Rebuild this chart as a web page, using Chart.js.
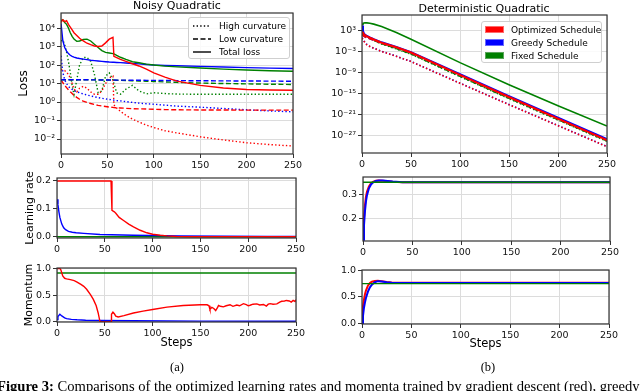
<!DOCTYPE html>
<html lang="en">
<head>
<meta charset="UTF-8" />
<title>Noisy / Deterministic Quadratic</title>
<style>
  body { margin: 0; width: 640px; height: 391px; overflow: hidden; position: relative; background: #fff;
         font-family: "DejaVu Sans", sans-serif; color: #000; }
  canvas { position: absolute; }
  .c { position: absolute; white-space: nowrap; transform: translate(-50%, -50%); }
  .legend { position: absolute; background: rgba(255,255,255,0.85); border: 1px solid #cfcfcf; border-radius: 3px; box-sizing: border-box; }
  .legend .row { position: absolute; font-size: 9px; line-height: 10px; white-space: nowrap; }
  .legend svg { position: absolute; }
  .patch { position: absolute; width: 19px; height: 7px; box-sizing: border-box; }
  .serif { font-family: "Liberation Serif", "DejaVu Serif", serif; }
</style>
</head>
<body>
<canvas id="nqLoss"></canvas>
<canvas id="dqLoss"></canvas>
<canvas id="nqLr"></canvas>
<canvas id="dqLr"></canvas>
<canvas id="nqMom"></canvas>
<canvas id="dqMom"></canvas>

<div class="c" style="left:177px; top:5px; font-size:11px;">Noisy Quadratic</div>
<div class="c" style="left:484px; top:8px; font-size:11px;">Deterministic Quadratic</div>

<div class="legend" style="left:188px; top:17px; width:102px; height:42px;">
  <svg width="20" height="40" style="left:4px; top:0;">
    <line x1="0" y1="8" x2="18" y2="8" stroke="#000" stroke-width="1.4" stroke-dasharray="1.4 2.2" />
    <line x1="0" y1="21" x2="18" y2="21" stroke="#000" stroke-width="1.4" stroke-dasharray="5 2.5" />
    <line x1="0" y1="34" x2="18" y2="34" stroke="#000" stroke-width="1.4" />
  </svg>
  <div class="row" style="left:30px; top:3px;">High curvature</div>
  <div class="row" style="left:30px; top:16px;">Low curvature</div>
  <div class="row" style="left:30px; top:29px;">Total loss</div>
</div>

<div class="legend" style="left:481px; top:21px; width:121px; height:42px;">
  <div class="patch" style="left:3px; top:4px; background:#ff0000; border:1px solid #ff6a6a;"></div>
  <div class="patch" style="left:3px; top:17px; background:#0000ff; border:1px solid #6a6aff;"></div>
  <div class="patch" style="left:3px; top:30px; background:#008000; border:1px solid #5aa55a;"></div>
  <div class="row" style="left:29px; top:3px;">Optimized Schedule</div>
  <div class="row" style="left:29px; top:16px;">Greedy Schedule</div>
  <div class="row" style="left:29px; top:29px;">Fixed Schedule</div>
</div>

<div class="c serif" style="left:177px; top:367px; font-size:12.5px;">(a)</div>
<div class="c serif" style="left:488px; top:367px; font-size:12.5px;">(b)</div>
<div class="serif" style="position:absolute; left:-3px; top:379px; font-size:14.6px; line-height:15px; white-space:nowrap;"><b>Figure 3:</b> Comparisons of the optimized learning rates and momenta trained by gradient descent (red), greedy</div>

<script src="https://cdn.jsdelivr.net/npm/chart.js"></script>
<script>
  // ---- shared axis ticks ----
  const stepTicks = [0, 50, 100, 150, 200, 250];
  const nqLossTicks = [1e-2, 1e-1, 1, 10, 100, 1e3, 1e4];
  const nqLossLabels = ['10⁻²', '10⁻¹', '10⁰', '10¹', '10²', '10³', '10⁴'];
  const dqLossTicks = [1e-27, 1e-21, 1e-15, 1e-9, 1e-3, 1e3];
  const dqLossLabels = ['10⁻²⁷', '10⁻²¹', '10⁻¹⁵', '10⁻⁹', '10⁻³', '10³'];
  const nqLrTicks = [0, 0.1, 0.2];
  const nqLrLabels = ['0.0', '0.1', '0.2'];
  const dqLrTicks = [0.2, 0.3];
  const dqLrLabels = ['0.2', '0.3'];
  const momTicks = [0, 0.5, 1.0];
  const momLabels = ['0.0', '0.5', '1.0'];

  // ---- noisy quadratic: loss ----
  const nqSteps = [0, 2, 4, 6, 8, 10, 12, 14, 17, 20, 24, 28, 32, 36, 40, 44, 48, 52, 56, 57, 60, 64, 70, 77, 84, 92, 100, 112, 125, 150, 175, 200, 225, 250];
  const nqRedTotal = [2.0e4, 2.8e4, 2.24e4, 2.51e4, 1.58e4, 1.12e4, 7.9e3, 5.6e3, 4.0e3, 2.8e3, 2.0e3, 1.51e3, 1.26e3, 1.07e3, 1.0e3, 1.07e3, 1.58e3, 2.51e3, 3.16e3, 295, 251, 200, 158, 117, 89, 60, 38, 22.4, 13.5, 7.9, 5.75, 4.8, 4.5, 4.3];
  const nqBlueTotal = [1.78e4, 2.0e3, 891, 562, 417, 339, 295, 269, 240, 224, 209, 195, 182, 174, 166, 158, 151, 145, 141, 141, 138, 135, 129, 120, 115, 107, 100, 95, 91, 85, 78, 72, 68, 65];
  const nqGreenTotal = [2.51e4, 2.8e4, 2.0e4, 1.58e4, 1.0e4, 5.6e3, 3.55e3, 2.51e3, 1.91e3, 2.0e3, 2.4e3, 2.51e3, 2.0e3, 1.32e3, 891, 603, 479, 447, 417, 398, 331, 263, 200, 151, 132, 112, 100, 87, 79, 69, 60, 54, 49, 46];
  const nqRedHigh = [56, 54, 50, 40, 31.6, 20, 10, 5.0, 3.55, 5.6, 7.1, 5.6, 3.55, 2.63, 2.63, 3.98, 10, 20, 25.1, 0.71, 0.47, 0.316, 0.19, 0.12, 0.083, 0.056, 0.042, 0.028, 0.0214, 0.0132, 0.0089, 0.0063, 0.005, 0.0042];
  const nqBlueHigh = [316, 40, 15.8, 10, 7.1, 5.6, 4.8, 4.17, 3.55, 3.16, 2.75, 2.4, 2.14, 1.91, 1.74, 1.58, 1.48, 1.38, 1.29, 1.26, 1.2, 1.15, 1.05, 0.955, 0.871, 0.813, 0.759, 0.676, 0.603, 0.525, 0.447, 0.38, 0.331, 0.295];
  const nqGreenHigh = [2.0e3, 2.24e3, 1.26e3, 501, 158, 40, 7.9, 2.51, 15.8, 100, 251, 263, 158, 31.6, 3.16, 3.98, 25.1, 38, 15.8, 10, 3.16, 2.63, 5.0, 7.9, 3.98, 2.75, 3.16, 2.88, 2.69, 2.63, 2.63, 2.63, 2.63, 2.63];
  const nqRedLow = [15.8, 11.2, 7.9, 6.0, 4.6, 3.6, 2.9, 2.3, 1.78, 1.41, 1.12, 0.955, 0.832, 0.741, 0.661, 0.617, 0.575, 0.537, 0.513, 0.501, 0.49, 0.479, 0.457, 0.437, 0.427, 0.417, 0.407, 0.389, 0.38, 0.372, 0.372, 0.363, 0.363, 0.363];
  const nqBlueLow = [16, 16, 16, 16, 16, 16, 16, 16, 16, 16, 16, 16, 15.8, 15.8, 15.7, 15.6, 15.5, 15.5, 15.4, 15.4, 15.3, 15.3, 15.2, 15.1, 15, 14.9, 14.8, 14.6, 14.4, 14.1, 13.9, 13.7, 13.5, 13.3];
  const nqGreenLow = [16, 16, 16, 16, 16, 16, 16, 16, 16, 16, 16, 15.9, 15.8, 15.7, 15.6, 15.5, 15.4, 15.3, 15.2, 15.2, 15.0, 14.8, 14.5, 14.1, 13.7, 13.3, 12.9, 12.2, 11.5, 10.6, 10.0, 9.6, 9.2, 8.9];

  // ---- deterministic quadratic: loss ----
  const dqSteps = [0, 1, 2, 3, 5, 8, 12, 20, 35, 50, 100, 150, 200, 250];
  const dqRedTotal = [316, 126, 63, 35.5, 15.8, 6.3, 2.0, 0.25, 1.26e-2, 4.0e-4, 1.6e-10, 7.9e-17, 5.0e-23, 4.0e-29];
  const dqBlueTotal = [2.0e4, 631, 100, 50, 20, 7.9, 2.5, 0.316, 1.58e-2, 5.0e-4, 2.5e-10, 1.26e-16, 1.0e-22, 7.9e-29];
  const dqGreenTotal = [4.0e4, 7.9e4, 1.0e5, 1.12e5, 1.12e5, 8.9e4, 5.0e4, 1.0e4, 200, 2.5, 5.0e-7, 2.5e-13, 2.5e-19, 4.0e-25];
  const dqRedLow = [40, 25, 15.8, 11.2, 6.3, 3.16, 1.26, 0.178, 1.0e-2, 3.16e-4, 1.26e-10, 6.3e-17, 4.0e-23, 3.16e-29];
  const dqBlueLow = [40, 25, 15.8, 11.2, 6.3, 3.16, 1.26, 0.2, 1.1e-2, 3.5e-4, 1.4e-10, 7.0e-17, 4.5e-23, 3.5e-29];
  const dqGreenLow = [126, 79, 50, 31.6, 15.8, 5.0, 1.26, 0.126, 5.0e-3, 1.58e-4, 6.3e-11, 3.16e-17, 2.5e-23, 2.0e-29];
  const dqRedHigh = [5.0, 2.0, 0.63, 0.316, 6.3e-2, 2.0e-2, 6.3e-3, 7.9e-4, 3.16e-5, 1.0e-6, 6.3e-13, 5.0e-19, 5.0e-25, 5.0e-31];
  const dqBlueHigh = [6.3, 2.5, 0.79, 0.35, 7.0e-2, 2.2e-2, 7.0e-3, 8.9e-4, 3.5e-5, 1.1e-6, 7.0e-13, 5.6e-19, 5.6e-25, 5.6e-31];
  const dqGreenHigh = [100, 63, 40, 25, 12.6, 4.0, 1.0, 0.1, 4.0e-3, 1.26e-4, 5.0e-11, 2.5e-17, 2.0e-23, 1.6e-29];

  // ---- learning rates ----
  const nqLrRedSteps = [0, 56.5, 57.5, 60, 61.5, 65, 70, 75, 80, 87, 94, 100, 108, 115, 125, 140, 250];
  const nqLrRed = [0.2, 0.2, 0.095, 0.09, 0.085, 0.07, 0.058, 0.046, 0.036, 0.024, 0.015, 0.01, 0.006, 0.004, 0.002, 0.001, 0.001];
  const nqLrBlueSteps = [0, 1, 2, 3, 5, 7, 9, 12, 16, 20, 28, 45, 80, 130, 220, 250];
  const nqLrBlue = [0.135, 0.115, 0.09, 0.07, 0.046, 0.033, 0.026, 0.02, 0.017, 0.015, 0.013, 0.009, 0.006, 0.004, 0.002, 0.002];
  const nqLrGreenSteps = [0, 250];
  const nqLrGreen = [0.001, 0.001];

  const dqEarlySteps = [0, 1, 2, 3, 4, 6, 8, 10, 13, 16, 20, 25, 30, 40, 250];
  const dqLrRed = [0.115, 0.2, 0.255, 0.29, 0.31, 0.333, 0.345, 0.352, 0.356, 0.357, 0.356, 0.354, 0.352, 0.35, 0.35];
  const dqLrBlue = [0.11, 0.17, 0.23, 0.27, 0.295, 0.325, 0.34, 0.349, 0.355, 0.357, 0.357, 0.355, 0.353, 0.35, 0.35];
  const dqLrGreenSteps = [0, 250];
  const dqLrGreen = [0.35, 0.35];

  // ---- momentum ----
  const nqMomRedSteps = [0, 2, 3, 4, 6, 8, 10, 14, 18, 21, 25, 28, 31, 35, 38, 41, 43, 45, 50, 56.5, 57, 58.5, 60, 61.5, 64, 70, 80, 90, 100, 115, 132, 150, 157, 159, 160, 162, 164, 166, 168, 169, 171, 174, 177, 181, 184, 188, 191, 195, 198, 200, 202, 205, 209, 212, 216, 219, 221, 223, 226, 230, 233, 235, 238, 240, 243, 245, 247, 249, 250];
  const nqMomRed = [1.0, 1.0, 1.0, 0.975, 0.86, 0.815, 0.805, 0.79, 0.77, 0.745, 0.7, 0.665, 0.61, 0.51, 0.42, 0.3, 0.17, 0.0, 0.0, 0.0, 0.14, 0.18, 0.15, 0.105, 0.09, 0.115, 0.165, 0.2, 0.23, 0.275, 0.305, 0.32, 0.318, 0.3, 0.23, 0.27, 0.25, 0.21, 0.27, 0.305, 0.29, 0.28, 0.3, 0.32, 0.29, 0.315, 0.3, 0.34, 0.32, 0.3, 0.31, 0.33, 0.335, 0.315, 0.325, 0.295, 0.33, 0.34, 0.33, 0.335, 0.37, 0.385, 0.39, 0.4, 0.39, 0.37, 0.4, 0.38, 0.415];
  const nqMomBlueSteps = [0, 1, 3, 5, 8, 10, 15, 21, 30, 45, 80, 150, 250];
  const nqMomBlue = [0.04, 0.1, 0.14, 0.11, 0.075, 0.06, 0.045, 0.037, 0.03, 0.025, 0.019, 0.012, 0.01];
  const nqMomGreenSteps = [0, 250];
  const nqMomGreen = [0.915, 0.915];

  const dqMomRed = [0.13, 0.33, 0.45, 0.55, 0.62, 0.71, 0.76, 0.785, 0.8, 0.803, 0.795, 0.78, 0.77, 0.765, 0.765];
  const dqMomBlue = [0.0, 0.15, 0.3, 0.4, 0.48, 0.6, 0.68, 0.73, 0.775, 0.795, 0.79, 0.775, 0.765, 0.76, 0.76];
  const dqMomGreenSteps = [0, 250];
  const dqMomGreen = [0.75, 0.75];

  const RED = '#ff0000', BLUE = '#0000ff', GREEN = '#008000';
  const gridColor = '#dcdcdc';
  const tickFont = { family: 'DejaVu Sans', size: 9.5 };

  function line(steps, vals, color, style, width) {
    return {
      data: steps.map((s, i) => ({ x: s, y: vals[i] })),
      borderColor: color,
      borderWidth: width || 1.4,
      borderDash: style === 'dot' ? [1.4, 2.2] : style === 'dash' ? [5, 2.5] : [],
      pointRadius: 0,
      tension: 0,
      fill: false
    };
  }

  // box around the plotting area, like matplotlib spines
  const frame = {
    id: 'frame',
    afterDatasetsDraw(chart) {
      const a = chart.chartArea, c = chart.ctx;
      c.save();
      c.strokeStyle = '#333';
      c.lineWidth = 1.2;
      c.strokeRect(a.left, a.top, a.right - a.left, a.bottom - a.top);
      c.restore();
    }
  };

  function makeChart(id, box, datasets, y) {
    const cv = document.getElementById(id);
    cv.width = box.w; cv.height = box.h;
    cv.style.left = box.x + 'px'; cv.style.top = box.y + 'px';
    const yScale = {
      type: y.type, min: y.min, max: y.max,
      afterBuildTicks: s => { s.ticks = y.ticks.map(v => ({ value: v })); },
      afterFit: s => { s.width = box.yw; },
      grid: { color: gridColor, tickColor: '#333', tickLength: 4 },
      border: { display: false },
      ticks: { color: '#111', font: tickFont, padding: 2, autoSkip: false,
               callback: v => y.labels[y.ticks.indexOf(v)] },
      title: y.title ? { display: true, text: y.title, color: '#000',
               font: { family: 'DejaVu Sans', size: y.titleSize }, padding: { top: y.titlePad, bottom: 0 } }
             : { display: false }
    };
    new Chart(cv, {
      type: 'line',
      data: { datasets },
      options: {
        responsive: false,
        animation: false,
        layout: { padding: { top: box.pt, right: box.pr, left: 0, bottom: 0 } },
        plugins: { legend: { display: false }, tooltip: { enabled: false } },
        scales: {
          x: {
            type: 'linear', min: 0, max: 250,
            afterBuildTicks: s => { s.ticks = stepTicks.map(v => ({ value: v })); },
            afterFit: s => { s.height = box.xh; },
            grid: { color: gridColor, tickColor: '#333', tickLength: 4 },
            border: { display: false },
            ticks: { color: '#111', font: tickFont, padding: 2, maxRotation: 0, autoSkip: false },
            title: box.steps ? { display: true, text: 'Steps', color: '#000',
                     font: { family: 'DejaVu Sans', size: 11.5 }, padding: { top: 0, bottom: box.steps } }
                   : { display: false }
          },
          y: yScale
        }
      },
      plugins: [frame]
    });
  }

  makeChart('nqLoss', { x: 0, y: 0, w: 305, h: 172, yw: 61, pt: 13, pr: 12, xh: 18 }, [
    line(nqSteps, nqRedTotal, RED, 'solid'),
    line(nqSteps, nqGreenTotal, GREEN, 'solid'),
    line(nqSteps, nqBlueTotal, BLUE, 'solid'),
    line(nqSteps, nqBlueLow, BLUE, 'dash'),
    line(nqSteps, nqGreenLow, GREEN, 'dash'),
    line(nqSteps, nqRedLow, RED, 'dash'),
    line(nqSteps, nqRedHigh, RED, 'dot'),
    line(nqSteps, nqBlueHigh, BLUE, 'dot'),
    line(nqSteps, nqGreenHigh, GREEN, 'dot')
  ], { type: 'logarithmic', min: 1.55e-3, max: 6.5e4, ticks: nqLossTicks, labels: nqLossLabels,
       title: 'Loss', titleSize: 12, titlePad: 17 });

  makeChart('dqLoss', { x: 320, y: 0, w: 299, h: 171, yw: 42, pt: 15, pr: 12, xh: 18 }, [
    line(dqSteps, dqRedTotal, RED, 'solid', 2),
    line(dqSteps, dqBlueTotal, BLUE, 'solid', 2),
    line(dqSteps, dqGreenTotal, GREEN, 'solid', 1.6),
    line(dqSteps, dqRedLow, RED, 'dash'),
    line(dqSteps, dqBlueLow, BLUE, 'dash'),
    line(dqSteps, dqGreenLow, GREEN, 'dash'),
    line(dqSteps, dqRedHigh, RED, 'dot', 1.6),
    line(dqSteps, dqBlueHigh, BLUE, 'dot', 1.6),
    line(dqSteps, dqGreenHigh, GREEN, 'dot')
  ], { type: 'logarithmic', min: 8e-33, max: 2e7, ticks: dqLossTicks, labels: dqLossLabels });

  makeChart('nqLr', { x: 0, y: 168, w: 308, h: 88, yw: 57, pt: 10, pr: 12, xh: 18 }, [
    line(nqLrRedSteps, nqLrRed, RED, 'solid'),
    line(nqLrBlueSteps, nqLrBlue, BLUE, 'solid'),
    line(nqLrGreenSteps, nqLrGreen, GREEN, 'solid')
  ], { type: 'linear', min: -0.0036, max: 0.2107, ticks: nqLrTicks, labels: nqLrLabels,
       title: 'Learning rate', titleSize: 11, titlePad: 24 });

  makeChart('dqLr', { x: 320, y: 167, w: 302, h: 92, yw: 43, pt: 10, pr: 12, xh: 18 }, [
    line(dqLrGreenSteps, dqLrGreen, GREEN, 'solid', 1.4),
    line(dqEarlySteps, dqLrBlue, BLUE, 'solid', 2),
    line(dqEarlySteps, dqLrRed, RED, 'solid', 2)
  ], { type: 'linear', min: 0.105, max: 0.372, ticks: dqLrTicks, labels: dqLrLabels });

  makeChart('nqMom', { x: 0, y: 258, w: 308, h: 102, yw: 57, pt: 10, pr: 12, xh: 38, steps: 10.5 }, [
    line(nqMomRedSteps, nqMomRed, RED, 'solid'),
    line(nqMomBlueSteps, nqMomBlue, BLUE, 'solid'),
    line(nqMomGreenSteps, nqMomGreen, GREEN, 'solid')
  ], { type: 'linear', min: -0.004, max: 1.008, ticks: momTicks, labels: momLabels,
       title: 'Momentum', titleSize: 11, titlePad: 23 });

  makeChart('dqMom', { x: 320, y: 260, w: 301, h: 102, yw: 42, pt: 10, pr: 12, xh: 38, steps: 11.5 }, [
    line(dqMomGreenSteps, dqMomGreen, GREEN, 'solid', 1.4),
    line(dqEarlySteps, dqMomBlue, BLUE, 'solid', 2),
    line(dqEarlySteps, dqMomRed, RED, 'solid', 2)
  ], { type: 'linear', min: -0.003, max: 1.003, ticks: momTicks, labels: momLabels });
</script>
</body>
</html>
